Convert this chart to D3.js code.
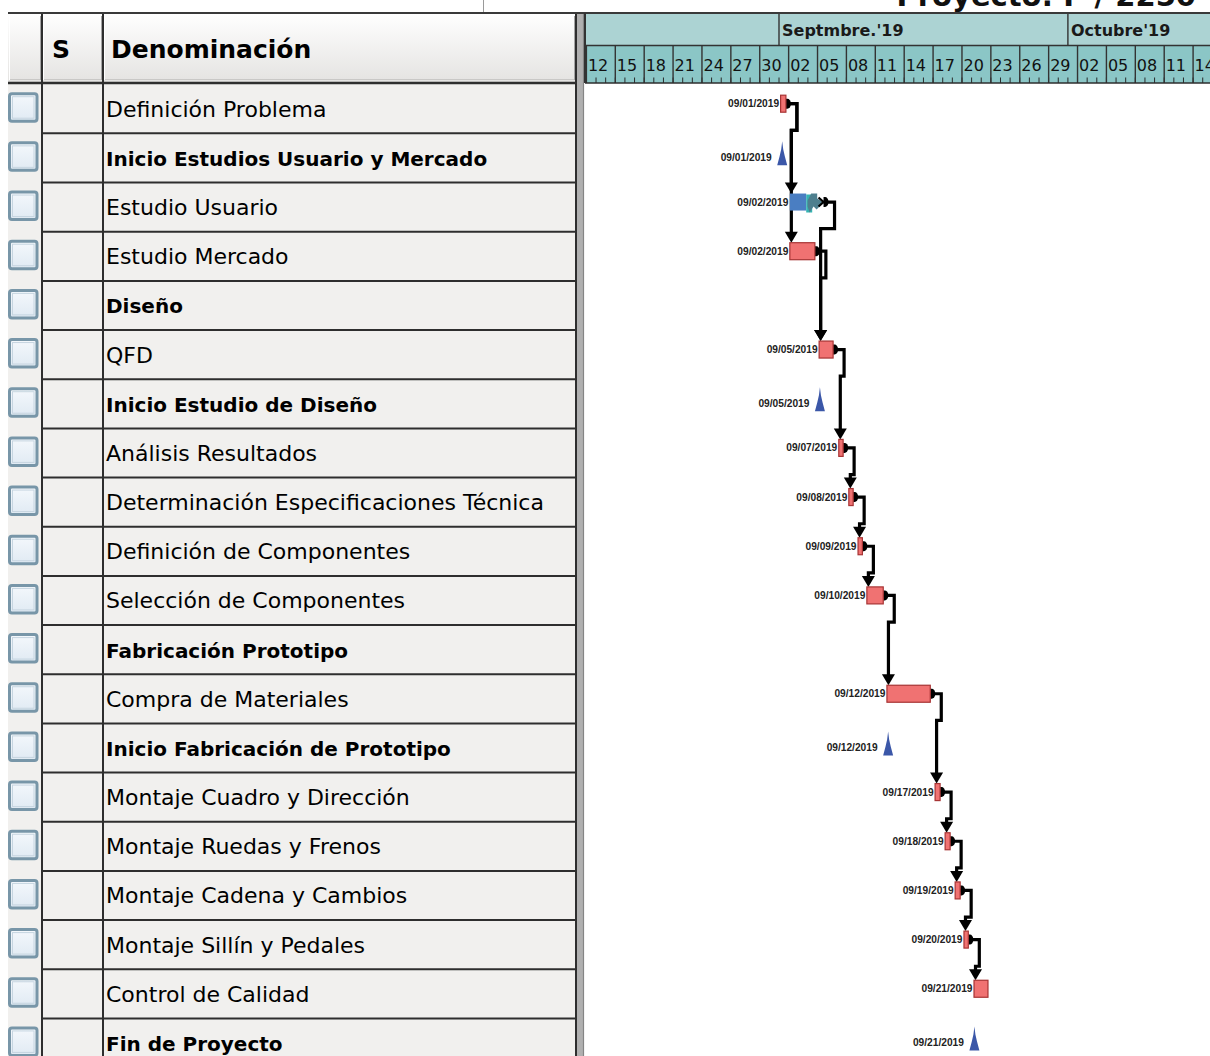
<!DOCTYPE html>
<html>
<head>
<meta charset="utf-8">
<script src="https://cdn.jsdelivr.net/npm/d3@7"></script>
<style>
  html, body { margin: 0; padding: 0; background: #ffffff; overflow: hidden; }
  svg { display: block; }
</style>
</head>
<body>
<script>
// ---- Project data -------------------------------------------------------
const projectTitle = "Proyecto: P / 2250";

const taskNames = [
  "Definición Problema",
  "Inicio Estudios Usuario y Mercado",
  "Estudio Usuario",
  "Estudio Mercado",
  "Diseño",
  "QFD",
  "Inicio Estudio de Diseño",
  "Análisis Resultados",
  "Determinación Especificaciones Técnica",
  "Definición de Componentes",
  "Selección de Componentes",
  "Fabricación Prototipo",
  "Compra de Materiales",
  "Inicio Fabricación de Prototipo",
  "Montaje Cuadro y Dirección",
  "Montaje Ruedas y Frenos",
  "Montaje Cadena y Cambios",
  "Montaje Sillín y Pedales",
  "Control de Calidad",
  "Fin de Proyecto"
];

// task | milestone | summary
const taskKinds = [
  "task", "milestone", "task", "task", "summary", "task", "milestone",
  "task", "task", "task", "task", "summary", "task", "milestone",
  "task", "task", "task", "task", "task", "milestone"
];

// start of each task (UTC), summaries carry no bar
const taskStarts = [
  "2019-09-01T04:00", "2019-09-01T08:00", "2019-09-02T03:00", "2019-09-02T03:00", null,
  "2019-09-05T04:00", "2019-09-05T06:00", "2019-09-07T05:00", "2019-09-08T06:00",
  "2019-09-09T05:00", "2019-09-10T03:00", null, "2019-09-12T05:00", "2019-09-12T08:00",
  "2019-09-17T05:00", "2019-09-18T06:00", "2019-09-19T07:00", "2019-09-20T05:00",
  "2019-09-21T06:00", "2019-09-21T07:00"
];

// duration in days
const taskDurations = [
  0.55, 0, 1.7, 2.6, null, 1.45, 0, 0.45, 0.45, 0.45, 1.7, null,
  4.5, 0, 0.52, 0.52, 0.52, 0.45, 1.45, 0
];

// critical path flag (non-critical tasks are drawn in blue with their slack)
const taskCritical = [
  true, true, false, true, true, true, true, true, true, true, true, true,
  true, true, true, true, true, true, true, true
];
const taskSlackDays = [
  0, 0, 1.8, 0, 0, 0, 0, 0, 0, 0, 0, 0, 0, 0, 0, 0, 0, 0, 0, 0
];

// finish-to-start links [predecessor, successor]
const taskLinks = [
  [0, 2], [0, 3], [2, 5], [3, 5], [5, 7], [7, 8], [8, 9], [9, 10],
  [10, 12], [12, 14], [14, 15], [15, 16], [16, 17], [17, 18]
];

// timescale
const timescaleStart = "2019-08-12";
const timescaleEnd = "2019-10-20";
const dayTickStep = 3;
const monthLabels = ["Septmbre.'19", "Octubre'19"];
const monthStarts = ["2019-09-01", "2019-10-01"];

// ---- Layout ---------------------------------------------------------------
const W = 1210, H = 1056;
const tableLeft = 8, colS = 42, colName = 103, tableRight = 576;
const ganttLeft = 585;
const headTop = 13, tierSplit = 45.5, headBottom = 83;
const rowTop0 = 84.2, rowH = 49.17;

const parseT = d3.utcParse("%Y-%m-%dT%H:%M");
const parseD = d3.utcParse("%Y-%m-%d");
const fmtLabel = d3.utcFormat("%m/%d/%Y");
const fmtDay = d3.utcFormat("%d");

const x = d3.scaleUtc()
  .domain([parseD(timescaleStart), parseD(timescaleEnd)])
  .range([586.4, 586.4 + 69 * 9.63]);

const y = d3.scaleBand()
  .domain(d3.range(taskNames.length))
  .range([rowTop0, rowTop0 + rowH * taskNames.length])
  .paddingInner(0).paddingOuter(0);

const tasks = taskNames.map((name, i) => {
  const s = taskStarts[i] ? parseT(taskStarts[i]) : null;
  const e = s ? d3.utcMinute.offset(s, Math.round(taskDurations[i] * 24 * 60)) : null;
  return {
    i, name, kind: taskKinds[i], start: s, end: e,
    critical: taskCritical[i], slack: taskSlackDays[i]
  };
});

const svg = d3.select("body").append("svg")
  .attr("width", W).attr("height", H)
  .attr("viewBox", `0 0 ${W} ${H}`);

const defs = svg.append("defs");
const hg = defs.append("linearGradient").attr("id", "headGrad")
  .attr("x1", 0).attr("y1", 0).attr("x2", 0).attr("y2", 1);
hg.append("stop").attr("offset", "0%").attr("stop-color", "#ffffff");
hg.append("stop").attr("offset", "100%").attr("stop-color", "#e4e3e1");

const cbg = defs.append("linearGradient").attr("id", "cbGrad")
  .attr("x1", 0).attr("y1", 0).attr("x2", 0).attr("y2", 1);
cbg.append("stop").attr("offset", "0%").attr("stop-color", "#f4f8fc");
cbg.append("stop").attr("offset", "100%").attr("stop-color", "#e0eaf3");

defs.append("clipPath").attr("id", "ganttClip")
  .append("rect").attr("x", ganttLeft).attr("y", 0)
  .attr("width", W - ganttLeft).attr("height", H);

defs.append("clipPath").attr("id", "titleClip")
  .append("rect").attr("x", 0).attr("y", 0).attr("width", W).attr("height", 12);

// ---- Title strip ------------------------------------------------------------
svg.append("line").attr("x1", 483.5).attr("x2", 483.5).attr("y1", 0).attr("y2", 12)
  .attr("stroke", "#9a9a9a").attr("stroke-width", 1);
svg.append("g").attr("clip-path", "url(#titleClip)")
  .append("text")
  .attr("x", 1196).attr("y", 6)
  .attr("text-anchor", "end")
  .attr("font-family", "DejaVu Sans, Verdana, sans-serif")
  .attr("font-weight", "bold").attr("font-size", 29)
  .attr("fill", "#111")
  .text(projectTitle);

// ---- Table --------------------------------------------------------------------
const table = svg.append("g");

// body background
table.append("rect")
  .attr("x", tableLeft).attr("y", headBottom)
  .attr("width", tableRight - tableLeft).attr("height", H - headBottom)
  .attr("fill", "#f1f0ee");

// header background
table.append("rect")
  .attr("x", tableLeft).attr("y", headTop)
  .attr("width", tableRight - tableLeft).attr("height", headBottom - headTop)
  .attr("fill", "url(#headGrad)");

// header bevels
[[tableLeft, colS], [colS, colName], [colName, tableRight]].forEach(([a, b]) => {
  table.append("line").attr("x1", a + 1.5).attr("x2", a + 1.5)
    .attr("y1", headTop + 3).attr("y2", headBottom - 3)
    .attr("stroke", "#ffffff").attr("stroke-width", 1);
  table.append("line").attr("x1", b - 1.5).attr("x2", b - 1.5)
    .attr("y1", headTop + 3).attr("y2", headBottom - 3)
    .attr("stroke", "#a5a5a5").attr("stroke-width", 1);
  table.append("line").attr("x1", a + 2).attr("x2", b - 2)
    .attr("y1", headBottom - 3.5).attr("y2", headBottom - 3.5)
    .attr("stroke", "#c9c8c6").attr("stroke-width", 1);
});

table.append("text").attr("x", 52).attr("y", 58)
  .attr("font-family", "DejaVu Sans, Verdana, sans-serif")
  .attr("font-weight", "bold").attr("font-size", 25).attr("fill", "#000")
  .text("S");
table.append("text").attr("x", 111).attr("y", 58)
  .attr("font-family", "DejaVu Sans, Verdana, sans-serif")
  .attr("font-weight", "bold").attr("font-size", 25).attr("fill", "#000")
  .text("Denominación");

// rows
const rows = table.selectAll("g.row").data(tasks).join("g")
  .attr("class", "row")
  .attr("transform", d => `translate(0,${y(d.i)})`);

rows.append("line")
  .attr("x1", colS).attr("x2", tableRight)
  .attr("y1", rowH).attr("y2", rowH)
  .attr("stroke", "#2e2e2e").attr("stroke-width", 2);

rows.append("rect")
  .attr("x", 9.5).attr("y", 9.5)
  .attr("width", 27.5).attr("height", 27.5)
  .attr("rx", 2.5).attr("ry", 2.5)
  .attr("fill", "url(#cbGrad)")
  .attr("stroke", "#7896a8").attr("stroke-width", 3);
rows.append("rect")
  .attr("x", 12.5).attr("y", 12.5)
  .attr("width", 21.5).attr("height", 21.5)
  .attr("fill", "none")
  .attr("stroke", "#c6d5e0").attr("stroke-width", 1);

rows.append("text")
  .attr("x", 106)
  .attr("y", rowH / 2 + 8)
  .attr("font-family", "DejaVu Sans, Verdana, sans-serif")
  .attr("font-weight", d => d.kind === "task" ? "normal" : "bold")
  .attr("font-size", d => d.kind === "task" ? 22 : 20)
  .attr("fill", "#000")
  .text(d => d.name);

// column rules
[colS, colName, tableRight].forEach(cx => {
  table.append("line").attr("x1", cx).attr("x2", cx)
    .attr("y1", headTop).attr("y2", H)
    .attr("stroke", "#2e2e2e").attr("stroke-width", 2);
});

// splitter
table.append("rect").attr("x", tableRight + 1).attr("y", headTop - 1)
  .attr("width", 7).attr("height", H).attr("fill", "#b0b0b0");
table.append("line").attr("x1", tableRight + 7.5).attr("x2", tableRight + 7.5)
  .attr("y1", headTop - 1).attr("y2", H)
  .attr("stroke", "#858585").attr("stroke-width", 1.2);

// ---- Gantt timescale ----------------------------------------------------------
const gantt = svg.append("g").attr("clip-path", "url(#ganttClip)");

gantt.append("rect").attr("x", ganttLeft).attr("y", headTop)
  .attr("width", W - ganttLeft).attr("height", tierSplit - headTop)
  .attr("fill", "#acd3d3");
gantt.append("rect").attr("x", ganttLeft).attr("y", tierSplit)
  .attr("width", W - ganttLeft).attr("height", headBottom - tierSplit)
  .attr("fill", "#8bc6c6");

const dayTicks = d3.utcDay.range(parseD(timescaleStart), parseD(timescaleEnd), dayTickStep);
const everyDay = d3.utcDay.range(parseD(timescaleStart), parseD(timescaleEnd));

gantt.selectAll("line.dayminor").data(everyDay).join("line")
  .attr("class", "dayminor")
  .attr("x1", d => x(d)).attr("x2", d => x(d))
  .attr("y1", headBottom - 5.5).attr("y2", headBottom)
  .attr("stroke", "#2a2a2a").attr("stroke-width", 1);

gantt.selectAll("line.daymajor").data(dayTicks).join("line")
  .attr("class", "daymajor")
  .attr("x1", d => x(d)).attr("x2", d => x(d))
  .attr("y1", tierSplit).attr("y2", headBottom)
  .attr("stroke", "#333").attr("stroke-width", 1.4);

gantt.selectAll("text.day").data(dayTicks).join("text")
  .attr("class", "day")
  .attr("x", d => x(d) + 1.5).attr("y", 71)
  .attr("font-family", "DejaVu Sans, Verdana, sans-serif")
  .attr("font-size", 16).attr("fill", "#111")
  .text(d => fmtDay(d));

const months = monthStarts.map((m, k) => ({ date: parseD(m), label: monthLabels[k] }));
gantt.selectAll("line.month").data(months).join("line")
  .attr("class", "month")
  .attr("x1", d => x(d.date)).attr("x2", d => x(d.date))
  .attr("y1", headTop).attr("y2", tierSplit)
  .attr("stroke", "#333").attr("stroke-width", 1.4);
gantt.selectAll("text.month").data(months).join("text")
  .attr("class", "month")
  .attr("x", d => x(d.date) + 3).attr("y", 36)
  .attr("font-family", "DejaVu Sans, Verdana, sans-serif")
  .attr("font-weight", "bold").attr("font-size", 16).attr("fill", "#1a1a1a")
  .text(d => d.label);

// header frame
svg.append("line").attr("x1", tableLeft).attr("x2", W)
  .attr("y1", headTop).attr("y2", headTop)
  .attr("stroke", "#3a3a3a").attr("stroke-width", 2);
svg.append("line").attr("x1", tableLeft).attr("x2", tableRight)
  .attr("y1", headBottom).attr("y2", headBottom)
  .attr("stroke", "#2e2e2e").attr("stroke-width", 2.5);
svg.append("line").attr("x1", ganttLeft).attr("x2", W)
  .attr("y1", headBottom).attr("y2", headBottom)
  .attr("stroke", "#2e2e2e").attr("stroke-width", 1.6);
svg.append("line").attr("x1", ganttLeft).attr("x2", W)
  .attr("y1", tierSplit).attr("y2", tierSplit)
  .attr("stroke", "#333").attr("stroke-width", 1.4);
svg.append("line").attr("x1", ganttLeft).attr("x2", ganttLeft)
  .attr("y1", headTop).attr("y2", headBottom)
  .attr("stroke", "#333").attr("stroke-width", 2);

// ---- Gantt bars ---------------------------------------------------------------
const barOffset = 11, barH = 17;
const barTop = d => y(d.i) + barOffset;
const barMid = d => barTop(d) + barH / 2;
const slackPx = d => x(d3.utcMinute.offset(d.end, Math.round(d.slack * 1440))) - x(d.end);

const linkLayer = gantt.append("g");
const barLayer = gantt.append("g");

// links
taskLinks.forEach(([p, s]) => {
  const a = tasks[p], b = tasks[s];
  const x1 = x(a.end) + (a.slack ? slackPx(a) : 0);
  const yc = barMid(a);
  const xa = x1 + 11;
  const yj = y(a.i) + rowH - 3;
  const xv = x(b.start) + 1.5;
  const y2 = barTop(b);
  const path = d3.path();
  path.moveTo(x1, yc);
  if (xv >= xa) {
    path.lineTo(xv, yc);
  } else {
    path.lineTo(xa, yc);
    path.lineTo(xa, yj);
    path.lineTo(xv, yj);
  }
  path.lineTo(xv, y2 - 9);
  linkLayer.append("path").attr("d", path.toString())
    .attr("fill", "none").attr("stroke", "#000").attr("stroke-width", 3.2)
    .attr("stroke-linejoin", "miter");
  linkLayer.append("path")
    .attr("d", `M${xv - 6.5},${y2 - 11}L${xv + 6.5},${y2 - 11}L${xv},${y2}Z`)
    .attr("fill", "#000");
});

// link start caps
const capTasks = Array.from(new Set(taskLinks.map(l => l[0]))).map(k => tasks[k]);
capTasks.forEach(a => {
  const x1 = x(a.end) + (a.slack ? slackPx(a) : 0);
  const yc = barMid(a);
  linkLayer.append("path")
    .attr("d", `M${x1},${yc - 5}h1.5a3.5,5 0 0 1 0,10h-1.5Z`)
    .attr("fill", "#000");
});

const bars = tasks.filter(d => d.kind === "task");
barLayer.selectAll("rect.bar").data(bars).join("rect")
  .attr("class", "bar")
  .attr("x", d => x(d.start))
  .attr("y", d => barTop(d))
  .attr("width", d => Math.max(1, x(d.end) - x(d.start)))
  .attr("height", barH)
  .attr("fill", d => d.critical ? "#f07272" : "#4a7ec2")
  .attr("stroke", d => d.critical ? "#a73434" : "none")
  .attr("stroke-width", 1.2);

// slack of non-critical tasks
bars.filter(d => d.slack > 0).forEach(d => {
  const x0 = x(d.end), t = barTop(d), w = slackPx(d);
  barLayer.append("path")
    .attr("d", `M${x0},${t + 1}h6l-2,7l2,2v9h-6Z`)
    .attr("fill", "#37b4b2");
  barLayer.append("path")
    .attr("d", `M${x0 + 5},${t}h6v5l${w - 11},4l-7,7l-3,-3l-4,6l-2,-6v-6Z`)
    .attr("fill", "#4e7f8e");
  barLayer.append("path")
    .attr("d", `M${x0 + w - 5},${t + 4}l5,4.5l-5,4.5`)
    .attr("fill", "none").attr("stroke", "#000").attr("stroke-width", 2.2);
});

// milestones
const milestones = tasks.filter(d => d.kind === "milestone");
barLayer.selectAll("path.ms").data(milestones).join("path")
  .attr("class", "ms")
  .attr("d", d => {
    const cx = x(d.start), b = y(d.i) + 32;
    return `M${cx},${b - 24}L${cx + 1},${b - 16}L${cx + 2.6},${b - 9}L${cx + 5},${b}` +
      `L${cx - 5},${b}L${cx - 2.6},${b - 9}L${cx - 1},${b - 16}Z`;
  })
  .attr("fill", "#3b57a8");

// date labels
const labelFont = "Liberation Sans, Arial, sans-serif";
barLayer.selectAll("text.bl").data(bars).join("text")
  .attr("class", "bl")
  .attr("x", d => x(d.start) - 1.5)
  .attr("y", d => barMid(d))
  .attr("dy", "0.35em")
  .attr("text-anchor", "end")
  .attr("font-family", labelFont).attr("font-size", 10.2)
  .attr("font-weight", "bold")
  .attr("fill", "#222")
  .text(d => fmtLabel(d.start));

barLayer.selectAll("text.ml").data(milestones).join("text")
  .attr("class", "ml")
  .attr("x", d => x(d.start) - 10.5)
  .attr("y", d => y(d.i) + 24)
  .attr("dy", "0.35em")
  .attr("text-anchor", "end")
  .attr("font-family", labelFont).attr("font-size", 10.2)
  .attr("font-weight", "bold")
  .attr("fill", "#222")
  .text(d => fmtLabel(d.start));
</script>
</body>
</html>
